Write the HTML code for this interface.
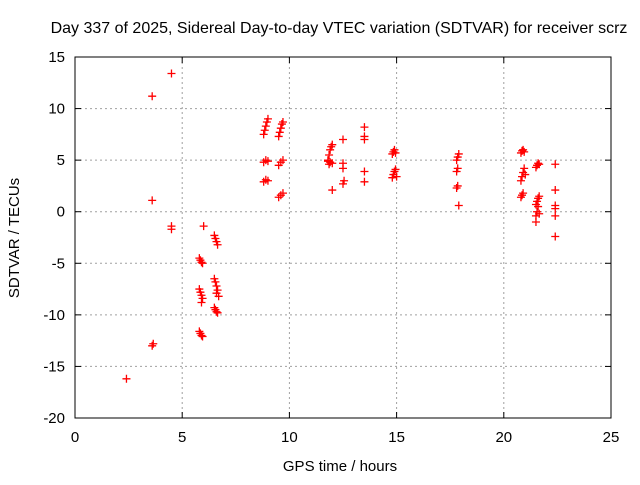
<!DOCTYPE html>
<html><head><meta charset="utf-8"><style>
body{margin:0;background:#fff;}
svg text{font-family:"Liberation Sans",sans-serif;font-size:15px;fill:#000;}
</style></head><body>
<svg id="chart" width="640" height="480" xmlns="http://www.w3.org/2000/svg">
<text x="339" y="33" text-anchor="middle" style="font-size:16px">Day 337 of 2025, Sidereal Day-to-day VTEC variation (SDTVAR) for receiver scrz</text>
<text x="340" y="471" text-anchor="middle">GPS time / hours</text>
<text transform="translate(19,238) rotate(-90)" text-anchor="middle">SDTVAR / TECUs</text>
<g id="grid"></g><g id="axes"></g><g id="pts"></g>
</svg>
<script>
const xTicks=[0,5,10,15,20,25];
const yTicks=[15,10,5,0,-5,-10,-15,-20];
const hours=[2.4,3.6,3.6,3.6,3.65,4.5,4.5,4.5,
5.8,5.85,5.9,5.95,5.8,5.85,5.9,5.95,5.9,5.8,5.85,5.9,5.95,6.0,
6.5,6.55,6.6,6.65,6.5,6.55,6.6,6.65,6.7,6.6,6.5,6.55,6.6,6.65,
8.8,8.85,8.9,8.95,9.0,8.8,8.9,9.0,8.8,8.9,9.0,
9.5,9.55,9.6,9.65,9.7,9.5,9.6,9.7,9.5,9.6,9.7,
11.8,11.85,11.9,11.95,12.0,11.85,11.8,11.9,12.0,12.0,
12.5,12.5,12.5,12.5,12.55,
13.5,13.5,13.5,13.5,13.5,
14.8,14.85,14.9,14.95,14.8,14.85,14.9,14.95,15.0,
17.8,17.85,17.9,17.8,17.85,17.8,17.85,17.9,
20.8,20.85,20.9,20.95,20.8,20.85,20.9,20.95,21.0,20.8,20.85,20.9,
21.5,21.55,21.6,21.65,21.5,21.55,21.6,21.65,21.5,21.55,21.6,21.65,21.5,
22.4,22.4,22.4,22.4,22.4,22.4];
const sdtvar=[-16.2,11.2,1.1,-13.0,-12.8,13.4,-1.4,-1.7,
-4.5,-4.7,-4.9,-5.0,-7.5,-7.8,-8.1,-8.4,-8.8,-11.6,-11.8,-12.0,-12.1,-1.4,
-2.3,-2.6,-2.9,-3.2,-6.5,-6.8,-7.2,-7.6,-8.2,-7.9,-9.3,-9.5,-9.7,-9.8,
7.5,7.9,8.3,8.7,9.0,4.8,5.0,4.9,2.9,3.1,3.0,
7.3,7.7,8.1,8.5,8.7,4.5,4.8,5.0,1.4,1.6,1.8,
5.0,5.5,6.0,6.3,6.5,4.6,4.9,4.8,4.7,2.1,
7.0,4.7,4.2,2.7,3.0,
8.2,7.3,7.0,3.9,2.9,
5.6,5.8,6.0,5.7,3.3,3.6,3.9,4.1,3.4,
5.0,5.3,5.6,3.9,4.2,2.3,2.5,0.6,
5.7,5.9,6.0,5.8,3.0,3.4,3.8,4.2,3.6,1.4,1.6,1.8,
4.3,4.5,4.7,4.6,0.7,1.0,1.3,1.5,-0.4,0.0,0.5,-0.2,-1.0,
4.6,2.1,0.6,0.3,-0.4,-2.4];
const L=75,R=611,T=57,B=418;
const xs=v=>L+(v-0)/25*(R-L);
const ys=v=>B-(v+20)/35*(B-T);
const NS="http://www.w3.org/2000/svg";
const mk=(tag,attrs,parent)=>{const e=document.createElementNS(NS,tag);for(const k in attrs)e.setAttribute(k,attrs[k]);parent.appendChild(e);return e;};
const grid=document.getElementById('grid'),axes=document.getElementById('axes'),pts=document.getElementById('pts');
xTicks.forEach(t=>{const x=xs(t);
 if(t>0&&t<25){const g=mk('line',{x1:x,x2:x,y1:T,y2:B,stroke:'#a0a0a0','stroke-dasharray':'2,3'},grid);
 
 }
 mk('line',{x1:x,x2:x,y1:B,y2:B-6,stroke:'#000'},axes);mk('line',{x1:x,x2:x,y1:T,y2:T+6,stroke:'#000'},axes);
 const tx=mk('text',{x:x,y:B+24,'text-anchor':'middle'},axes);tx.textContent=t;
 
 });
yTicks.forEach(t=>{const y=ys(t);
 if(t>-20&&t<15){const g=mk('line',{x1:L,x2:R,y1:y,y2:y,stroke:'#a0a0a0','stroke-dasharray':'2,3'},grid);
 
 }
 mk('line',{x1:L,x2:L+6,y1:y,y2:y,stroke:'#000'},axes);mk('line',{x1:R,x2:R-6,y1:y,y2:y,stroke:'#000'},axes);
 const tx=mk('text',{x:L-10,y:y+5,'text-anchor':'end'},axes);tx.textContent=t;
 
 });
const fr=mk('rect',{x:L,y:T,width:R-L,height:B-T,fill:'none',stroke:'#000'},axes);


hours.forEach((h,i)=>{const x=xs(h),y=ys(sdtvar[i]);
 const p=mk('path',{d:`M${x-4},${y}h8M${x},${y-4}v8`,stroke:'#ff0000','stroke-width':1.3,fill:'none'},pts);
 
 });
</script>
</body></html>
